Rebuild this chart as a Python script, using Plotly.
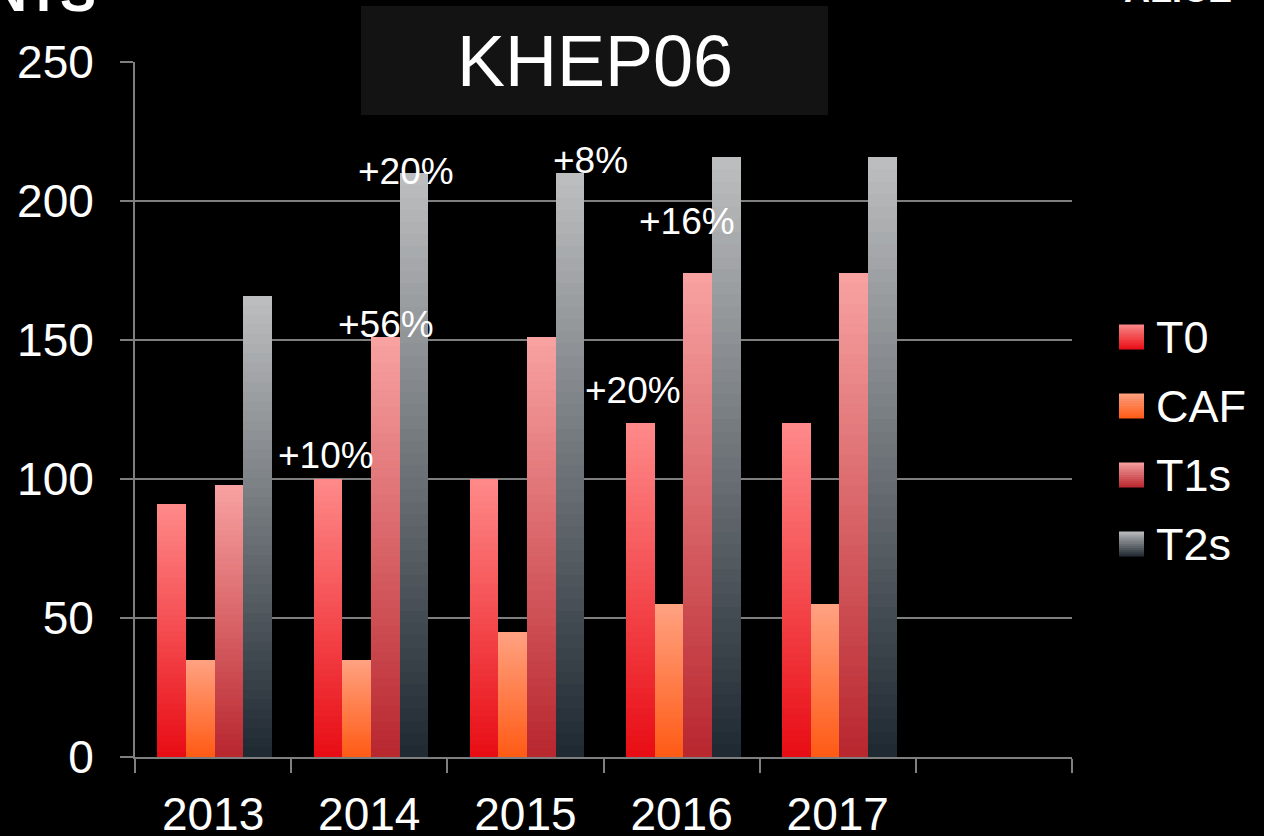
import plotly.graph_objects as go

# ---------------- data ----------------
years = ["2013", "2014", "2015", "2016", "2017"]
series_names = ["T0", "CAF", "T1s", "T2s"]
t0 = [91, 100, 100, 120, 120]
caf = [35, 35, 45, 55, 55]
t1s = [98, 151, 151, 174, 174]
t2s = [166, 210, 210, 216, 216]
values = [t0, caf, t1s, t2s]

pct_labels = ["+10%", "+56%", "+20%", "+8%", "+20%", "+16%"]
pct_pos = [(0.72, 108.6), (1.11, 155.4), (1.238, 210.6), (2.419, 214.7), (2.688, 132.0), (3.034, 192.8)]

title_text = "KHEP06"

# ---------------- style ----------------
FONT = "Liberation Sans, Arial, sans-serif"
GRID = "#7f7f7f"
# gradient (bottom, top) per series
grads = [((232, 12, 20), (255, 138, 138)),
         ((255, 90, 20), (255, 162, 130)),
         ((184, 38, 46), (248, 162, 162)),
         ((30, 40, 48), (190, 191, 193))]
NSLICE = 48
BAR_W = 0.1836
OFF0 = -0.357

L, R, T, B = 135, 1072, 62, 757
def px_x(p):
    return (p - L) / (R - L)
def px_y(p):
    return (B - p) / (B - T)

def mix(c0, c1, f):
    return "rgb(%d,%d,%d)" % tuple(round(a + (b - a) * f) for a, b in zip(c0, c1))

fig = go.Figure()
xidx = list(range(len(years)))
for s, (name, vals) in enumerate(zip(series_names, values)):
    c0, c1 = grads[s]
    xs, ys, cols = [], [], []
    for k in range(NSLICE, 0, -1):
        f = (k - 0.5) / NSLICE
        for i, v in enumerate(vals):
            xs.append(xidx[i])
            ys.append(v * k / NSLICE)
            cols.append(mix(c0, c1, f))
    fig.add_trace(go.Bar(
        x=xs, y=ys, name=name, showlegend=False,
        width=BAR_W, offset=OFF0 + s * BAR_W,
        marker=dict(color=cols, line=dict(width=0)),
        hoverinfo="skip",
    ))

shapes = []
annotations = []

# title box
shapes.append(dict(type="rect", xref="paper", yref="paper",
                   x0=px_x(361), x1=px_x(828), y0=px_y(115), y1=px_y(6),
                   fillcolor="#131313", line=dict(width=0), layer="above"))
annotations.append(dict(text=title_text, xref="paper", yref="paper",
                        x=px_x(595), y=px_y(61), xanchor="center", yanchor="middle",
                        showarrow=False, font=dict(family=FONT, size=72, color="white")))

# cropped slide texts at top
annotations.append(dict(text="<b>NTS</b>", xref="paper", yref="paper",
                        x=px_x(98), y=px_y(24), xanchor="right", yanchor="bottom",
                        showarrow=False, font=dict(family=FONT, size=54, color="white")))
annotations.append(dict(text="<b>ALICE</b>", xref="paper", yref="paper",
                        x=px_x(1234), y=px_y(12), xanchor="right", yanchor="bottom",
                        showarrow=False, font=dict(family=FONT, size=36, color="white")))

# percentage labels
for lab, (xx, yy) in zip(pct_labels, pct_pos):
    annotations.append(dict(text=lab, x=xx, y=yy, xref="x", yref="y",
                            showarrow=False, xanchor="center", yanchor="middle",
                            font=dict(family=FONT, size=37, color="white")))

# manual legend
for s, name in enumerate(series_names):
    cy = 337 + 69 * s
    c0, c1 = grads[s]
    n = 12
    for k in range(n):
        y0p = cy + 12.5 - 25 * k / n
        y1p = cy + 12.5 - 25 * (k + 1) / n - 0.6
        shapes.append(dict(type="rect", xref="paper", yref="paper",
                           x0=px_x(1119), x1=px_x(1144), y0=px_y(y0p), y1=px_y(max(y1p, cy - 12.5)),
                           fillcolor=mix(c0, c1, (k + 0.5) / n), line=dict(width=0)))
    annotations.append(dict(text=name, xref="paper", yref="paper",
                            x=px_x(1154), y=px_y(cy), xanchor="left", yanchor="middle",
                            showarrow=False, font=dict(family=FONT, size=45, color="white")))

fig.update_layout(
    width=1264, height=836,
    margin=dict(l=L, r=1264 - R, t=T, b=836 - B, autoexpand=False),
    paper_bgcolor="black", plot_bgcolor="black",
    barmode="overlay", bargap=0,
    font=dict(family=FONT, color="white", size=46),
    shapes=shapes, annotations=annotations,
    showlegend=False,
)
fig.update_xaxes(
    automargin=False,
    range=[-0.5, len(years) + 0.5],
    tickmode="array", tickvals=xidx, ticktext=years,
    ticks="", showgrid=False, zeroline=False,
    showline=True, linecolor=GRID, linewidth=2,
    tickfont=dict(size=46, color="white"),
    ticklabelstandoff=16,
    minor=dict(tickmode="array", tickvals=[i - 0.5 for i in range(len(years) + 2)],
               ticks="outside", ticklen=14, tickcolor=GRID, tickwidth=2, showgrid=False),
)
fig.update_yaxes(
    automargin=False,
    range=[0, 250], tickmode="linear", tick0=0, dtick=50,
    showgrid=True, gridcolor=GRID, gridwidth=2, zeroline=False,
    showline=True, linecolor=GRID, linewidth=2,
    ticks="outside", ticklen=13, tickcolor=GRID, tickwidth=2,
    tickfont=dict(size=46, color="white"),
    ticklabelstandoff=17,
)

fig.write_html(
    "out.html",
    config={"displayModeBar": False},
    post_script="document.body.style.margin='0';document.body.style.background='black';",
)
